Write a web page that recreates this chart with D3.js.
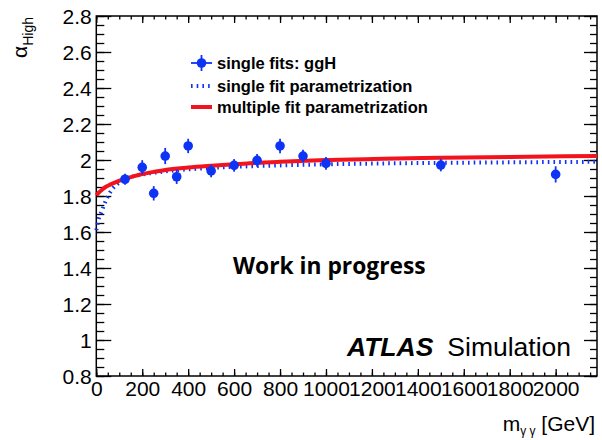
<!DOCTYPE html>
<html>
<head>
<meta charset="utf-8">
<script src="https://cdn.jsdelivr.net/npm/d3@7/dist/d3.min.js"></script>
<style>
  html, body { margin: 0; padding: 0; background: #fff; }
  svg { display: block; }
  text { font-family: "Liberation Sans", Arial, Helvetica, sans-serif; fill: #000; }
</style>
</head>
<body>
<svg id="chart" width="602" height="440"></svg>
<script>
// Per-mass-point fit results for alpha_High (ggH)
const massPoints = [125, 200, 250, 300, 350, 400, 500, 600, 700, 800, 900, 1000, 1500, 2000];
const alphaFit   = [1.893, 1.959, 1.815, 2.022, 1.907, 2.078, 1.939, 1.970, 1.998, 2.078, 2.022, 1.981, 1.972, 1.920];
const alphaErr   = [0.030, 0.040, 0.040, 0.045, 0.040, 0.040, 0.035, 0.035, 0.035, 0.040, 0.035, 0.035, 0.035, 0.045];

// Parametrization curves sampled along m_yy
const curveMass    = [0, 10, 25, 40, 60, 90, 125, 150, 200, 250, 300, 400, 500, 600, 800, 1000, 1250, 1500, 1800, 2180];
const singleParam  = [1.610, 1.670, 1.720, 1.770, 1.820, 1.865, 1.893, 1.905, 1.920, 1.929, 1.937, 1.948, 1.956, 1.962, 1.970, 1.976, 1.981, 1.984, 1.987, 1.990];
const multipleParam= [1.805, 1.818, 1.835, 1.850, 1.863, 1.880, 1.896, 1.905, 1.922, 1.934, 1.945, 1.958, 1.968, 1.977, 1.990, 2.000, 2.007, 2.012, 2.017, 2.022];

// Axis ticks
const xMajor = d3.range(0, 2001, 200);
const xMinor = d3.range(0, 2180, 50);
const yMajor = [0.8, 1, 1.2, 1.4, 1.6, 1.8, 2, 2.2, 2.4, 2.6, 2.8];
const yMinor = d3.range(16, 57).map(i => i * 0.05);

const legendLabels = ["single fits: ggH", "single fit parametrization", "multiple fit parametrization"];

const blue = "#0d33f5";
const red = "#f2131d";

const frame = { left: 96.3, right: 597, top: 16, bottom: 376 };
const svg = d3.select("#chart");

const x = d3.scaleLinear().domain([0, 2180]).range([frame.left, frame.right]);
const y = d3.scaleLinear().domain([0.8, 2.8]).range([frame.bottom, frame.top]);

// Ticks on all four sides, pointing inward; labels on left and bottom only
function styleAxis(g) {
  g.select(".domain").remove();
  g.selectAll(".tick line").attr("stroke", "#000").attr("stroke-width", 1.3);
}

svg.append("g").attr("transform", `translate(0,${frame.bottom})`)
  .call(d3.axisBottom(x).tickValues(xMinor).tickSize(-3.5).tickFormat(""))
  .call(styleAxis);
svg.append("g").attr("transform", `translate(0,${frame.bottom})`)
  .call(d3.axisBottom(x).tickValues(xMajor).tickSize(-7).tickPadding(5).tickFormat(d3.format("d")))
  .call(styleAxis)
  .call(g => g.selectAll("text").attr("font-size", 21).attr("fill", "#000"));

svg.append("g").attr("transform", `translate(0,${frame.top})`)
  .call(d3.axisTop(x).tickValues(xMinor).tickSize(-3.5).tickFormat(""))
  .call(styleAxis);
svg.append("g").attr("transform", `translate(0,${frame.top})`)
  .call(d3.axisTop(x).tickValues(xMajor).tickSize(-7).tickFormat(""))
  .call(styleAxis);

svg.append("g").attr("transform", `translate(${frame.left},0)`)
  .call(d3.axisLeft(y).tickValues(yMinor).tickSize(-8).tickFormat(""))
  .call(styleAxis);
svg.append("g").attr("transform", `translate(${frame.left},0)`)
  .call(d3.axisLeft(y).tickValues(yMajor).tickSize(-15).tickPadding(4.5).tickFormat(d => String(+d.toFixed(1))))
  .call(styleAxis)
  .call(g => g.selectAll("text").attr("font-size", 21).attr("fill", "#000").attr("dy", "0.38em"));

svg.append("g").attr("transform", `translate(${frame.right},0)`)
  .call(d3.axisRight(y).tickValues(yMinor).tickSize(-7).tickFormat(""))
  .call(styleAxis);
svg.append("g").attr("transform", `translate(${frame.right},0)`)
  .call(d3.axisRight(y).tickValues(yMajor).tickSize(-13).tickFormat(""))
  .call(styleAxis);

// Frame
svg.append("rect")
  .attr("x", frame.left).attr("y", frame.top)
  .attr("width", frame.right - frame.left).attr("height", frame.bottom - frame.top)
  .attr("fill", "none").attr("stroke", "#000").attr("stroke-width", 1.5);

// Parametrization curves
const line = d3.line().x(d => x(d[0])).y(d => y(d[1])).curve(d3.curveMonotoneX);

svg.append("path")
  .datum(curveMass.map((m, i) => [m, singleParam[i]]))
  .attr("d", line)
  .attr("fill", "none").attr("stroke", blue).attr("stroke-width", 4)
  .attr("stroke-dasharray", "1.6 4.1");

svg.append("path")
  .datum(curveMass.map((m, i) => [m, multipleParam[i]]))
  .attr("d", line)
  .attr("fill", "none").attr("stroke", red).attr("stroke-width", 4);

// Single fit points with error bars
const pts = svg.append("g");
massPoints.forEach((m, i) => {
  pts.append("line")
    .attr("x1", x(m)).attr("x2", x(m))
    .attr("y1", y(alphaFit[i] - alphaErr[i])).attr("y2", y(alphaFit[i] + alphaErr[i]))
    .attr("stroke", blue).attr("stroke-width", 1.8);
  pts.append("circle")
    .attr("cx", x(m)).attr("cy", y(alphaFit[i])).attr("r", 4.8)
    .attr("fill", blue);
});

// Legend
const legend = svg.append("g");
const legRows = [63, 86, 107];
legend.append("line").attr("x1", 191).attr("x2", 212).attr("y1", legRows[0]).attr("y2", legRows[0])
  .attr("stroke", blue).attr("stroke-width", 1.8);
legend.append("line").attr("x1", 201.5).attr("x2", 201.5).attr("y1", legRows[0] - 8).attr("y2", legRows[0] + 8)
  .attr("stroke", blue).attr("stroke-width", 1.8);
legend.append("circle").attr("cx", 201.5).attr("cy", legRows[0]).attr("r", 4.8).attr("fill", blue);
legend.append("line").attr("x1", 191).attr("x2", 212).attr("y1", legRows[1]).attr("y2", legRows[1])
  .attr("stroke", blue).attr("stroke-width", 4).attr("stroke-dasharray", "1.6 4.1");
legend.append("line").attr("x1", 191).attr("x2", 212).attr("y1", legRows[2]).attr("y2", legRows[2])
  .attr("stroke", red).attr("stroke-width", 4);
legendLabels.forEach((t, i) => {
  legend.append("text").attr("x", 217).attr("y", legRows[i]).attr("dy", "0.36em")
    .attr("font-size", 16.5).attr("font-weight", "bold").text(t);
});

// Annotations
svg.append("text").attr("x", 233).attr("y", 274)
  .style("font-family", "'Open Sans', sans-serif")
  .attr("font-size", 22.8).attr("font-weight", "bold").text("Work in progress");

const atlas = svg.append("text").attr("x", 347).attr("y", 356).attr("font-size", 26.5);
atlas.append("tspan").attr("font-weight", "bold").attr("font-style", "italic").text("ATLAS");
atlas.append("tspan").attr("dx", 14).text("Simulation");

// Axis titles
const xt = svg.append("text").attr("x", 595).attr("y", 431).attr("text-anchor", "end").attr("font-size", 21);
xt.append("tspan").text("m");
xt.append("tspan").attr("font-size", 12).attr("dy", 4).text("γ γ");
xt.append("tspan").attr("dy", -4).text(" [GeV]");

const yt = svg.append("text").attr("transform", "translate(27,17) rotate(-90)")
  .attr("text-anchor", "end").attr("font-size", 21);
yt.append("tspan").text("α");
yt.append("tspan").attr("font-size", 14).attr("dy", 6).text("High");
</script>
</body>
</html>
